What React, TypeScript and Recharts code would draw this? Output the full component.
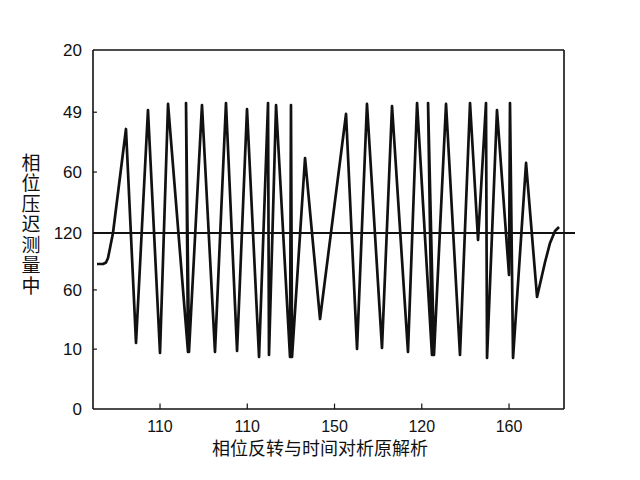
import React from "react";
import { LineChart, Line, XAxis, YAxis, ReferenceLine, Label } from "recharts";

// x positions in axis units (ticks at 10..50), y values in axis units (0..60)
const xs = [
  2.78, 3.47, 3.81, 4.04, 4.27, 4.61, 6.1, 7.25, 8.62, 10.0, 10.92, 13.21, 12.98, 13.32, 14.81,
  16.3, 17.56, 18.83, 19.97, 21.35, 22.38, 22.49, 23.3, 24.9, 25.01, 25.13, 26.62, 28.34, 31.32,
  32.58, 33.72, 35.44, 36.59, 38.42, 39.46, 41.17, 40.72, 41.4, 42.78, 44.38, 45.53, 46.45, 47.36,
  47.48, 48.62, 50.0, 50.11, 50.46, 51.95, 53.21, 54.13, 54.7, 55.27, 55.73,
];
const ys = [
  24.23, 24.23, 24.49, 25.24, 26.91, 29.42, 46.8, 11.03, 49.97, 9.36, 50.98, 9.53, 51.14, 9.53, 50.8,
  9.53, 51.14, 9.69, 50.13, 8.69, 51.14, 9.03, 50.8, 8.69, 50.8, 8.69, 41.95, 15.04, 49.31,
  10.03, 50.98, 10.2, 50.64, 9.53, 51.14, 9.03, 51.14, 9.03, 50.98, 9.03, 51.14, 28.25, 51.14,
  8.52, 49.97, 22.4, 51.14, 8.52, 41.12, 18.72, 24.57, 27.75, 29.75, 30.42,
];
const xTicks = [10, 20, 30, 40, 50];
const xTickLabels = ["110", "110", "150", "120", "160"];
const yTicks = [0, 10, 19.9, 29.4, 39.6, 49.6, 60];
const yTickLabels = ["0", "10", "60", "120", "60", "49", "20"];
const baselineValue = 29.4;
const xMin = 2.32;
const xMax = 56.3;
const baselineEnd = 57.56;

const data = xs.map((x, i) => ({ x, y: ys[i] }));

const xTitle = "相位反转与时间对析原解析";
const yTitle = "相位压迟测量中";

const numFont = "Liberation Sans, Arial, sans-serif";

function XTick(props: any) {
  const { x, y, payload } = props;
  const label = xTickLabels[xTicks.indexOf(payload.value)] ?? "";
  return (
    <text x={x} y={y} dy="0.71em" textAnchor="middle" fontSize={16} fill="#111" fontFamily={numFont}>
      {label}
    </text>
  );
}

function YTick(props: any) {
  const { x, y, payload } = props;
  const label = yTickLabels[yTicks.indexOf(payload.value)] ?? "";
  return (
    <text x={x} y={y} dy="0.355em" textAnchor="end" fontSize={17} fill="#111" fontFamily={numFont}>
      {label}
    </text>
  );
}

export default function App() {
  return (
    <div style={{ width: 624, height: 464 }}>
      <LineChart
        width={624}
        height={464}
        data={data}
        margin={{ top: 42, right: 68, left: 0, bottom: 0 }}
      >
        <XAxis
          dataKey="x"
          type="number"
          domain={[xMin, xMax]}
          ticks={xTicks}
          interval={0}
          allowDataOverflow
          tickLine={false}
          tickSize={6}
          tickMargin={6}
          height={63}
          axisLine={{ stroke: "#111", strokeWidth: 1.6 }}
          tick={<XTick />}
        >
          <Label
            content={() => (
              <text
                x={312}
                y={447}
                textAnchor="middle"
                fontSize={18}
                fill="#111"
                fontFamily="Noto Sans CJK SC, sans-serif"
              >
                {xTitle}
              </text>
            )}
          />
        </XAxis>
        <YAxis
          type="number"
          domain={[0, 60]}
          ticks={yTicks}
          interval={0}
          allowDataOverflow
          width={85}
          tickLine={false}
          tickSize={6}
          tickMargin={5}
          axisLine={{ stroke: "#111", strokeWidth: 1.6 }}
          tick={<YTick />}
        >
          <Label
            content={() => (
              <text
                x={23}
                y={145}
                fontSize={19}
                fill="#111"
                fontFamily="Noto Sans CJK SC, sans-serif"
                style={{ writingMode: "vertical-rl", letterSpacing: 1.5 }}
              >
                {yTitle}
              </text>
            )}
          />
        </YAxis>
        <ReferenceLine y={60} stroke="#111" strokeWidth={1.6} />
        <ReferenceLine x={xMax} stroke="#111" strokeWidth={1.6} />
        {yTicks.slice(1, -1).map((v) => (
          <ReferenceLine
            key={"yt" + v}
            segment={[{ x: xMin, y: v }, { x: xMin + 0.45, y: v }]}
            stroke="#111"
            strokeWidth={1.2}
          />
        ))}
        {xTicks.map((v) => (
          <ReferenceLine
            key={"xt" + v}
            segment={[{ x: v, y: 0 }, { x: v, y: 0.9 }]}
            stroke="#111"
            strokeWidth={1.2}
          />
        ))}
        <ReferenceLine
          segment={[{ x: xMin, y: baselineValue }, { x: baselineEnd, y: baselineValue }]}
          stroke="#111"
          strokeWidth={2}
          ifOverflow="visible"
        />
        <Line
          type="linear"
          dataKey="y"
          stroke="#111"
          strokeWidth={2.7}
          strokeLinejoin="round"
          dot={false}
          isAnimationActive={false}
        />
      </LineChart>
    </div>
  );
}
